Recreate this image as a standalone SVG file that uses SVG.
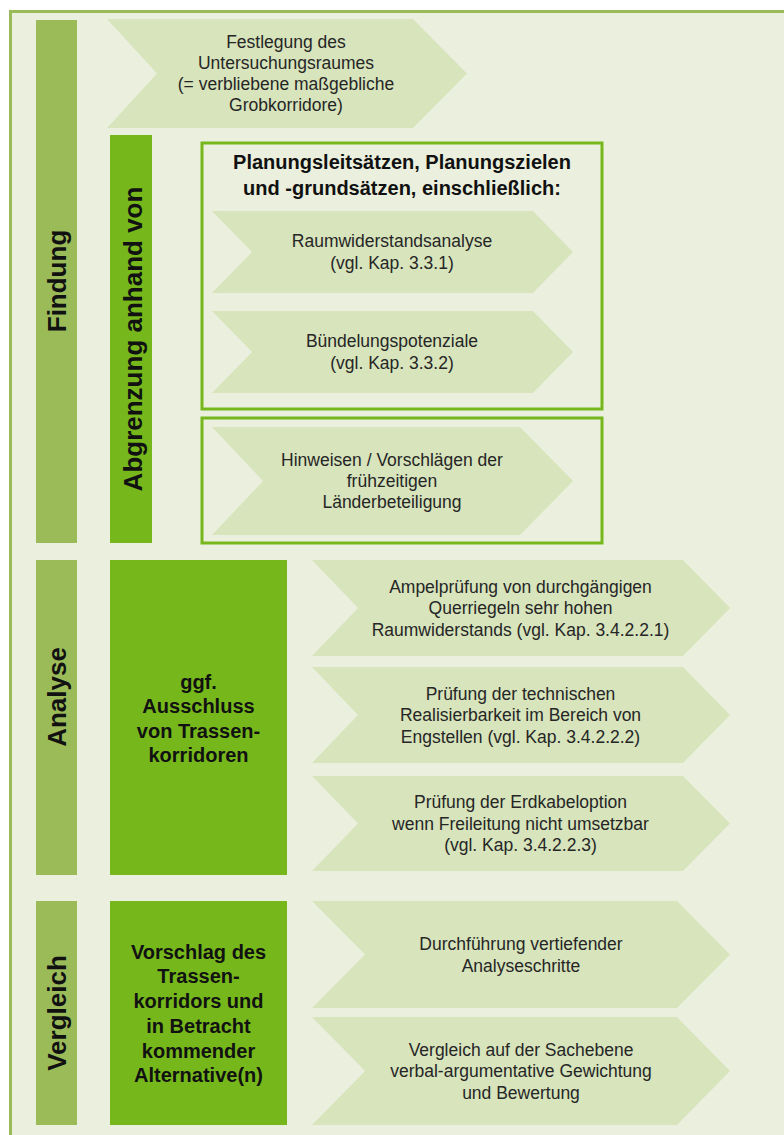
<svg xmlns="http://www.w3.org/2000/svg" width="784" height="1135" viewBox="0 0 784 1135">
<style>
.frame{fill:#ebf0de;stroke:#9bbb59;stroke-width:3}
.olive{fill:#9bbb59}
.green{fill:#76b81c}
.arrow{fill:#d7e4bc}
.outline{fill:none;stroke:#76b81c;stroke-width:3}
.t{font-family:"Liberation Sans",Arial,sans-serif;font-size:17.5px;fill:#262626;text-anchor:middle}
.b{font-family:"Liberation Sans",Arial,sans-serif;font-size:20px;font-weight:bold;fill:#111;text-anchor:middle}
.v{font-family:"Liberation Sans",Arial,sans-serif;font-size:26px;font-weight:bold;fill:#111;text-anchor:middle}
</style>
<rect width="784" height="1135" fill="#ffffff"/>
<rect class="frame" x="10.5" y="11.5" width="800" height="1150"/>

<g id="findung">
<rect class="olive" x="36" y="20" width="41" height="523"/>
<text class="v" transform="translate(66,281) rotate(-90)">Findung</text>
</g>
<g id="analyse">
<rect class="olive" x="36" y="560" width="41" height="315"/>
<text class="v" transform="translate(66,697) rotate(-90)">Analyse</text>
</g>
<g id="vergleich">
<rect class="olive" x="36" y="901" width="41" height="224"/>
<text class="v" transform="translate(66,1013) rotate(-90)">Vergleich</text>
</g>

<g id="festlegung">
<polygon class="arrow" points="107,19 413,19 467,73.5 413,128 107,128 157,73.5"/>
<text class="t" x="286" y="48">Festlegung des</text>
<text class="t" x="286" y="69">Untersuchungsraumes</text>
<text class="t" x="286" y="90">(= verbliebene maßgebliche</text>
<text class="t" x="286" y="111">Grobkorridore)</text>
</g>

<g id="abgrenzung">
<rect class="green" x="110" y="135" width="42" height="408"/>
<text class="v" transform="translate(142,339) rotate(-90)">Abgrenzung anhand von</text>
</g>

<g id="planungsgrundsaetze">
<rect class="outline" x="202" y="143" width="400" height="266"/>
<text class="b" x="402" y="169">Planungsleitsätzen, Planungszielen</text>
<text class="b" x="402" y="195">und -grundsätzen, einschließlich:</text>
</g>
<g id="raumwiderstand">
<polygon class="arrow" points="212,211 533,211 573,252 533,293 212,293 252,252"/>
<text class="t" x="392" y="247">Raumwiderstandsanalyse</text>
<text class="t" x="392" y="269">(vgl. Kap. 3.3.1)</text>
</g>
<g id="buendelung">
<polygon class="arrow" points="212,311 533,311 573,352 533,393 212,393 252,352"/>
<text class="t" x="392" y="347">Bündelungspotenziale</text>
<text class="t" x="392" y="369">(vgl. Kap. 3.3.2)</text>
</g>
<g id="hinweise">
<rect class="outline" x="202" y="418" width="400" height="125"/>
<polygon class="arrow" points="212,427 520,427 573,481 520,535 212,535 263,481"/>
<text class="t" x="392" y="466">Hinweisen / Vorschlägen der</text>
<text class="t" x="392" y="487">frühzeitigen</text>
<text class="t" x="392" y="508">Länderbeteiligung</text>
</g>

<g id="ausschluss">
<rect class="green" x="110" y="560" width="177" height="315"/>
<text class="b" x="198.5" y="689">ggf.</text>
<text class="b" x="198.5" y="713">Ausschluss</text>
<text class="b" x="198.5" y="737.5">von Trassen-</text>
<text class="b" x="198.5" y="762">korridoren</text>
</g>
<g id="ampel">
<polygon class="arrow" points="312,560 683,560 730,608 683,656 312,656 358,608"/>
<text class="t" x="520.5" y="592.5">Ampelprüfung von durchgängigen</text>
<text class="t" x="520.5" y="614">Querriegeln sehr hohen</text>
<text class="t" x="520.5" y="635.5">Raumwiderstands (vgl. Kap. 3.4.2.2.1)</text>
</g>
<g id="technik">
<polygon class="arrow" points="312,667 683,667 730,715 683,763 312,763 358,715"/>
<text class="t" x="520.5" y="699.5">Prüfung der technischen</text>
<text class="t" x="520.5" y="721">Realisierbarkeit im Bereich von</text>
<text class="t" x="520.5" y="742.5">Engstellen (vgl. Kap. 3.4.2.2.2)</text>
</g>
<g id="erdkabel">
<polygon class="arrow" points="312,776 683,776 730,823.5 683,871 312,871 358,823.5"/>
<text class="t" x="520.5" y="808">Prüfung der Erdkabeloption</text>
<text class="t" x="520.5" y="829.5">wenn Freileitung nicht umsetzbar</text>
<text class="t" x="520.5" y="851">(vgl. Kap. 3.4.2.2.3)</text>
</g>

<g id="vorschlag">
<rect class="green" x="110" y="901" width="177" height="224"/>
<text class="b" x="198.5" y="958.7">Vorschlag des</text>
<text class="b" x="198.5" y="983.4">Trassen-</text>
<text class="b" x="198.5" y="1008.1">korridors und</text>
<text class="b" x="198.5" y="1032.8">in Betracht</text>
<text class="b" x="198.5" y="1057.5">kommender</text>
<text class="b" x="198.5" y="1082.2">Alternative(n)</text>
</g>
<g id="vertiefung">
<polygon class="arrow" points="312,901 677,901 730,954.5 677,1008 312,1008 365,954.5"/>
<text class="t" x="521" y="950">Durchführung vertiefender</text>
<text class="t" x="521" y="972">Analyseschritte</text>
</g>
<g id="sachebene">
<polygon class="arrow" points="312,1017 677,1017 730,1071 677,1125 312,1125 365,1071"/>
<text class="t" x="521" y="1055.5">Vergleich auf der Sachebene</text>
<text class="t" x="521" y="1077">verbal-argumentative Gewichtung</text>
<text class="t" x="521" y="1098.5">und Bewertung</text>
</g>
<g id="connectors"></g>
</svg>
